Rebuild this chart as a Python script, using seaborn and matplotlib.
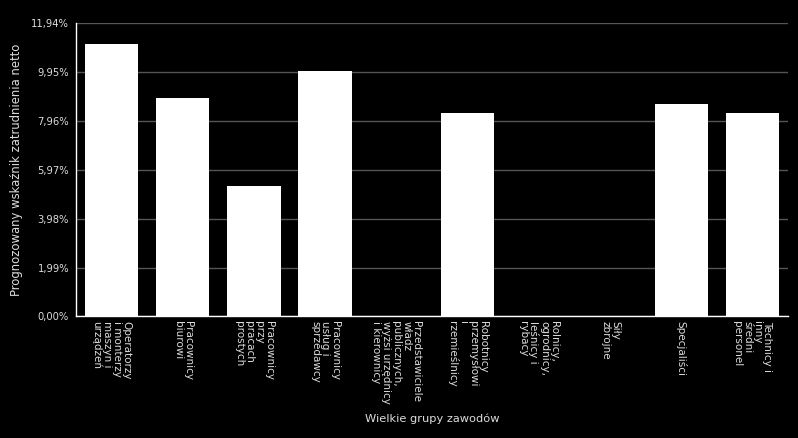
import numpy as np
import pandas as pd
import matplotlib
matplotlib.use("Agg")
import matplotlib.pyplot as plt
import seaborn as sns

categories = [
    "Operatorzy\ni monterzy\nmaszyn i\nurządzeń",
    "Pracownicy\nbiurowi",
    "Pracownicy\nprzy\npracach\nprostych",
    "Pracownicy\nusług i\nsprzedawcy",
    "Przedstawiciele\nwładz\npublicznych,\nwyżsi urzędnicy\ni kierownicy",
    "Robotnicy\nprzemysłowi\ni\nrzemieślnicy",
    "Rolnicy,\nogrodnicy,\nleśnicy i\nrybacy",
    "Siły\nzbrojne",
    "Specjaliści",
    "Technicy i\ninny\nśredni\npersonel",
]
values = [11.09, 8.89, 5.31, 9.99, 0.0, 8.28, 0.0, 0.0, 8.65, 8.28]
y_ticks = [0.0, 1.99, 3.98, 5.97, 7.96, 9.95, 11.94]

df = pd.DataFrame({"grupa": categories, "wskaznik": values})

sns.set_theme(style="dark")
plt.rcParams["font.family"] = ["DejaVu Sans"]
text_col = "#dcdcdc"

fig = plt.figure(figsize=(7.98, 4.38), dpi=100, facecolor="black")
ax = fig.add_axes([0.0952, 0.2774, 0.8923, 0.6701])
ax.set_facecolor("black")

sns.barplot(data=df, x="grupa", y="wskaznik", color="white",
            saturation=1, width=0.75, ax=ax, edgecolor="none")

ax.set_ylim(0, 11.94)
ax.set_xlim(-0.5, len(categories) - 0.5)
ax.set_yticks(y_ticks)
ax.set_yticklabels([f"{v:.2f}%".replace(".", ",") for v in y_ticks],
                   color=text_col, fontsize=7.2)
ax.set_xticks(range(len(categories)))
ax.set_xticklabels(categories, rotation=-90, ha="center", va="top",
                   color=text_col, fontsize=7.5, linespacing=1.0)
for lbl in ax.get_xticklabels():
    lbl.set_multialignment("left")
ax.tick_params(axis="both", length=0)
ax.tick_params(axis="x", pad=3)
ax.tick_params(axis="y", pad=5)

ax.grid(axis="y", color="#555555", linewidth=1)
ax.grid(axis="x", visible=False)
ax.set_axisbelow(True)

for side in ["top", "right"]:
    ax.spines[side].set_visible(False)
for side in ["left", "bottom"]:
    ax.spines[side].set_visible(True)
    ax.spines[side].set_color("white")
    ax.spines[side].set_linewidth(1)

ax.set_xlabel("Wielkie grupy zawodów", color=text_col, fontsize=8.2)
ax.xaxis.set_label_coords(0.5, -0.33)
ax.set_ylabel("Prognozowany wskaźnik zatrudnienia netto", color=text_col,
              fontsize=8.4)
ax.yaxis.set_label_coords(-0.075, 0.5)

fig.savefig("out.png", dpi=100, facecolor="black")
